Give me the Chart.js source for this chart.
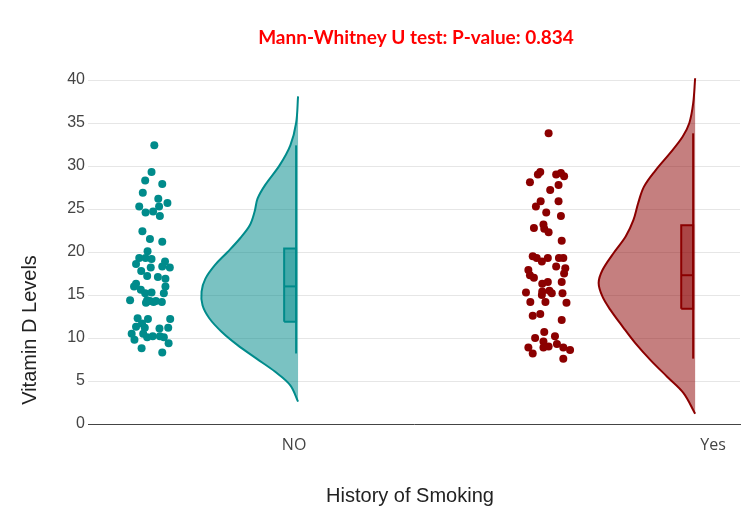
<!DOCTYPE html>
<html><head><meta charset="utf-8">
<script src="https://cdn.jsdelivr.net/npm/chart.js@4.4.1/dist/chart.umd.min.js"></script>
<style>html,body{margin:0;padding:0;background:#fff;}#wrap{width:750px;height:526px;}</style>
</head><body><div id="wrap"><canvas id="c" width="750" height="526"></canvas></div>
<script>
// ---------- data ----------
const categories = ['NO', 'Yes'];
const chartTitle = 'Mann-Whitney U test: P-value: 0.834';
const xAxisTitle = 'History of Smoking';
const yAxisTitle = 'Vitamin D Levels';
const yTickValues = [0, 5, 10, 15, 20, 25, 30, 35, 40];

const noValues = [32.4, 29.3, 28.3, 27.9, 26.9, 26.2, 25.7, 25.3, 25.3, 24.6, 24.7, 24.2, 22.4, 21.5, 21.2,
  20.1, 19.3, 19.3, 19.2, 18.9, 18.6, 17.8, 18.2, 18.3, 18.2, 17.2, 17.1, 16.9, 16.3, 16.0, 15.6, 16.0,
  15.2, 15.3, 15.2, 14.4, 14.4, 14.1, 14.3, 14.2, 14.3, 14.2, 12.3, 12.2, 12.2, 11.3, 11.7, 11.2, 11.1,
  11.2, 10.5, 9.8, 10.5, 10.1, 10.2, 10.2, 10.1, 9.4, 8.8, 8.3];
const noJitter = [-0.362, -0.369, -0.385, -0.342, -0.391, -0.352, -0.329, -0.400, -0.350, -0.384, -0.365,
  -0.348, -0.392, -0.373, -0.342, -0.379, -0.400, -0.384, -0.369, -0.335, -0.408, -0.395, -0.371, -0.342,
  -0.323, -0.380, -0.353, -0.334, -0.408, -0.413, -0.396, -0.334, -0.385, -0.369, -0.338, -0.423, -0.380,
  -0.383, -0.373, -0.364, -0.358, -0.343, -0.404, -0.378, -0.322, -0.408, -0.393, -0.386, -0.349, -0.327,
  -0.419, -0.412, -0.390, -0.380, -0.366, -0.348, -0.338, -0.326, -0.394, -0.342];

const yesValues = [33.8, 29.3, 29.0, 28.1, 29.0, 29.2, 28.8, 27.8, 27.2, 25.9, 25.9, 25.3, 24.6, 24.2, 22.8,
  23.2, 22.7, 22.3, 21.3, 19.5, 19.3, 18.9, 19.3, 19.3, 19.3, 18.3, 18.1, 17.9, 17.5, 17.3, 17.0, 16.5,
  16.5, 16.3, 15.3, 15.4, 15.0, 15.5, 15.2, 15.2, 14.2, 14.2, 14.1, 12.6, 12.8, 12.1, 10.7, 10.2, 10.0,
  9.6, 9.3, 8.9, 8.9, 9.0, 8.9, 8.6, 8.2, 7.6];
const yesJitter = [-0.369, -0.390, -0.396, -0.416, -0.350, -0.338, -0.330, -0.344, -0.365, -0.389, -0.344,
  -0.401, -0.375, -0.338, -0.406, -0.382, -0.380, -0.369, -0.336, -0.409, -0.399, -0.386, -0.371, -0.343,
  -0.332, -0.350, -0.327, -0.420, -0.330, -0.416, -0.406, -0.336, -0.371, -0.385, -0.426, -0.385, -0.386,
  -0.367, -0.361, -0.334, -0.415, -0.377, -0.324, -0.409, -0.390, -0.336, -0.380, -0.353, -0.403, -0.382,
  -0.348, -0.420, -0.382, -0.369, -0.332, -0.315, -0.409, -0.332];

// half-violin density profiles (relative density at each level)
const noViolinLevels = [38.1, 35.0, 32.4, 30.1, 27.8, 26.2, 24.7, 23.1, 21.6, 20.0, 18.5, 16.9, 15.4, 13.8, 12.3, 10.7, 9.2, 7.6, 6.1, 4.5, 2.6];
const noViolinDensity = [0, 0.02, 0.08, 0.19, 0.34, 0.42, 0.45, 0.50, 0.60, 0.73, 0.86, 0.96, 1.0, 0.99, 0.92, 0.79, 0.63, 0.43, 0.24, 0.08, 0];
const yesViolinLevels = [40.2, 37.3, 35.0, 33.4, 31.5, 29.5, 27.6, 25.7, 23.7, 21.8, 19.8, 17.9, 16.4, 14.8, 13.3, 11.3, 9.4, 7.4, 5.5, 3.6, 1.2];
const yesViolinDensity = [0, 0.02, 0.06, 0.13, 0.26, 0.41, 0.53, 0.59, 0.64, 0.72, 0.85, 0.96, 1.0, 0.96, 0.88, 0.75, 0.62, 0.46, 0.29, 0.12, 0];

// box statistics per category
const boxMin = [8.2, 7.6];
const boxQ1 = [11.9, 13.4];
const boxMedian = [16.0, 17.3];
const boxQ3 = [20.4, 23.1];
const boxMax = [32.4, 33.8];

// ---------- style ----------
const lineColors = ['#008B8B', '#8B0000'];
const fillColors = ['rgba(0,139,139,0.52)', 'rgba(139,0,0,0.5)'];
const boxFills = ['rgba(0,139,139,0.45)', 'rgba(139,0,0,0.45)'];
const violinMaxWidth = 0.243;
const boxLeft = -0.035, boxRight = -0.005;
const tickLabelShift = [-0.01, 0.045];
const xMin = -0.529, xMax = 1.113;

const groups = [
  {values: noValues, jitter: noJitter, levels: noViolinLevels, density: noViolinDensity},
  {values: yesValues, jitter: yesJitter, levels: yesViolinLevels, density: yesViolinDensity}
];

const datasets = [];
groups.forEach((g, i) => {
  // whisker
  datasets.push({data: [{x: i + boxRight, y: boxMin[i]}, {x: i + boxRight, y: boxMax[i]}],
    showLine: true, borderColor: lineColors[i], borderWidth: 2, pointRadius: 0, fill: false, tension: 0});
  // median
  datasets.push({data: [{x: i + boxLeft, y: boxMedian[i]}, {x: i + boxRight, y: boxMedian[i]}],
    showLine: true, borderColor: lineColors[i], borderWidth: 2, pointRadius: 0, fill: false, tension: 0});
  // box
  datasets.push({data: [
      {x: i + boxLeft, y: boxQ1[i]}, {x: i + boxRight, y: boxQ1[i]},
      {x: i + boxRight, y: boxQ3[i]}, {x: i + boxLeft, y: boxQ3[i]}, {x: i + boxLeft, y: boxQ1[i]}],
    showLine: true, borderColor: lineColors[i], borderWidth: 2, pointRadius: 0,
    fill: 'shape', backgroundColor: boxFills[i], tension: 0});
  // half violin
  datasets.push({data: g.levels.map((v, k) => ({x: i - g.density[k] * violinMaxWidth, y: v})),
    showLine: true, borderColor: lineColors[i], borderWidth: 2, pointRadius: 0,
    fill: 'shape', backgroundColor: fillColors[i], tension: 0.35});
  // jittered points
  datasets.push({data: g.values.map((v, k) => ({x: i + g.jitter[k], y: v})),
    showLine: false, pointRadius: 4, pointBackgroundColor: lineColors[i], pointBorderWidth: 0,
    backgroundColor: lineColors[i]});
});

const textPlugin = {
  id: 'texts',
  afterDraw(chart) {
    const {ctx, chartArea} = chart;
    ctx.save();
    ctx.textAlign = 'center';
    ctx.textBaseline = 'middle';
    ctx.fillStyle = '#FF0000';
    ctx.font = 'bold 19px Lato';
    ctx.fillText(chartTitle, (chartArea.left + chartArea.right) / 2 + 2, 38);
    ctx.fillStyle = '#222';
    ctx.font = '20px "Liberation Sans"';
    ctx.fillText(xAxisTitle, 410, 496);
    ctx.translate(30, 330);
    ctx.rotate(-Math.PI / 2);
    ctx.fillText(yAxisTitle, 0, 0);
    ctx.restore();
  }
};

new Chart(document.getElementById('c'), {
  type: 'scatter',
  data: {datasets},
  plugins: [textPlugin],
  options: {
    responsive: false,
    devicePixelRatio: 1,
    animation: false,
    clip: false,
    layout: {padding: {top: 80, right: 10, left: 0, bottom: 0}},
    plugins: {legend: {display: false}, tooltip: {enabled: false}, title: {display: false}},
    scales: {
      x: {
        type: 'linear', min: xMin, max: xMax,
        grid: {display: false, drawTicks: false},
        border: {display: true, color: '#444', width: 1},
        afterBuildTicks: (scale) => { scale.ticks = categories.map((c, i) => ({value: i + tickLabelShift[i]})); },
        afterFit: (scale) => { scale.height = 102; },
        ticks: {autoSkip: false, maxRotation: 0, padding: 12, color: '#444',
          font: {family: '"Open Sans"', size: 16},
          callback: (v, idx) => categories[idx]}
      },
      y: {
        min: 0, max: 40,
        afterBuildTicks: (scale) => { scale.ticks = yTickValues.map(v => ({value: v})); },
        afterFit: (scale) => { scale.width = 88; },
        grid: {color: '#e6e6e6', drawTicks: false},
        border: {display: false},
        ticks: {padding: 3, color: '#444', font: {family: '"Liberation Sans"', size: 16}}
      }
    }
  }
});
</script>
</body></html>
